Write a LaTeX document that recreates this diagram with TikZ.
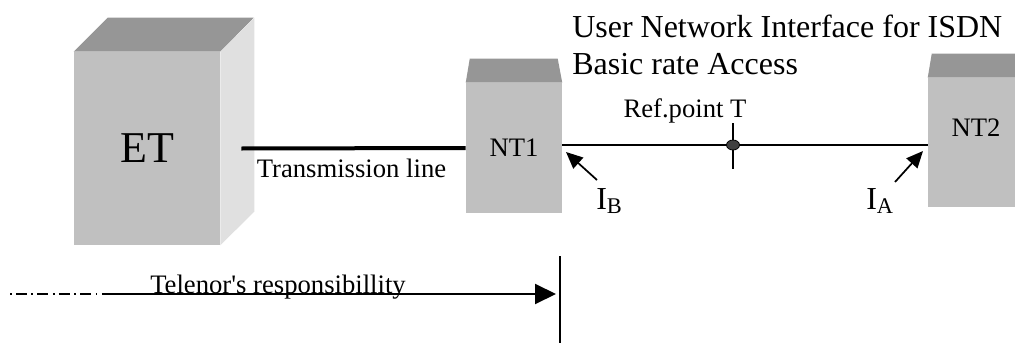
\documentclass[tikz,border=0pt]{standalone}
\usepackage{fontspec}
\setmainfont{Liberation Serif}
\usepackage{tikz}
\usetikzlibrary{arrows.meta,shapes.geometric}
\definecolor{boxfront}{HTML}{C0C0C0}
\definecolor{boxtop}{HTML}{969696}
\definecolor{boxside}{HTML}{E0E0E0}
\definecolor{refdot}{HTML}{404040}

\begin{document}
\begin{tikzpicture}[x=0.75pt,y=-0.75pt,
	front/.style={fill=boxfront, inner sep=0pt, font=\fontsize{20}{24}\selectfont},
	lbl/.style={inner sep=0pt, font=\fontsize{20}{24}\selectfont},
	bigiface/.style={inner sep=0pt, font=\fontsize{24}{27.75}\selectfont},
	pointer/.style={line width=1.3pt, -{Triangle[length=12.5pt,width=11pt]}}]
						\useasboundingbox (0,0) rectangle (1015,343);
						% ET box
						\node[front, minimum width=109.5pt, minimum height=144.75pt, font=\fontsize{33}{36}\selectfont] (et) at (147,148.5) {ET};
						\fill[boxtop] (et.north west) -- ++(34,-34) -- ++(146,0) -- (et.north east) -- cycle;
						\fill[boxside] (et.north east) -- ++(34,-34) -- ++(0,194) -- (et.south east) -- cycle;
						% NT1 and NT2
						\node[front, minimum width=72pt, minimum height=97.5pt] (nt1) at (514,148) {NT1};
						\fill[boxtop] (nt1.north west) -- ++(4,-24) -- ++(88,0) -- (nt1.north east) -- cycle;
						\node[front, minimum width=72pt, minimum height=96.75pt] (nt2) at (976,142.5) {};
						\fill[boxtop] (nt2.north west) -- ++(4,-24) -- ++(88,0) -- (nt2.north east) -- cycle;
						\node[lbl] (nt2txt) at (976,128) {NT2};
						% lines
						\draw[line width=3pt] ([xshift=15.75pt]et.east) -- (nt1.west);
						\node[lbl, anchor=base] (txlbl) at (351.5,177) {Transmission line};
						\coordinate (refc) at (733,145);
						\draw[line width=1.5pt] (nt1.east |- refc) -- (nt2.west |- refc);
						\draw[line width=1.1pt] ([yshift=16.5pt]refc) -- ([yshift=-18pt]refc);
						\node[draw, fill=refdot, ellipse, minimum width=9.75pt, minimum height=7.5pt, inner sep=0pt, line width=0.6pt] (refpt) at (refc) {};
						\node[lbl, anchor=base] (reflbl) at (685,117) {Ref.point T};
						\node[bigiface, align=left, anchor=base west] (uni) at (572,74) {User Network Interface for ISDN\\Basic rate Access};
						% interfaces
						\node[bigiface, anchor=base west] (ib) at (596,209) {I\textsubscript{B}};
						\node[bigiface, anchor=base west] (ia) at (866,209) {I\textsubscript{A}};
						\coordinate (ibfoot) at (597,180);
						\coordinate (ibtip) at (566,152);
						\coordinate (iafoot) at (895,182);
						\coordinate (iatip) at (923,151);
						\draw[pointer] (ibfoot) -- (ibtip);
						\draw[pointer] (iafoot) -- (iatip);
						% responsibility
						\coordinate (respstart) at (10,294);
						\coordinate (respmid) at (112,294);
						\coordinate (resptip) at (556,294);
						\coordinate (bordertop) at (560,256);
						\draw[line width=1.1pt, dash pattern=on 1.2pt off 3.3pt on 8pt off 3.6pt] (respstart) -- (respmid);
						\draw[line width=1.5pt, -{Triangle[length=15.75pt,width=15pt]}] (respmid) -- (resptip);
						\draw[line width=1.5pt] (bordertop) -- ++(0,90);
						\node[lbl, anchor=base] (resp) at (278,293) {Telenor\textquotesingle s responsibillity};
					\end{tikzpicture}
\end{document}
